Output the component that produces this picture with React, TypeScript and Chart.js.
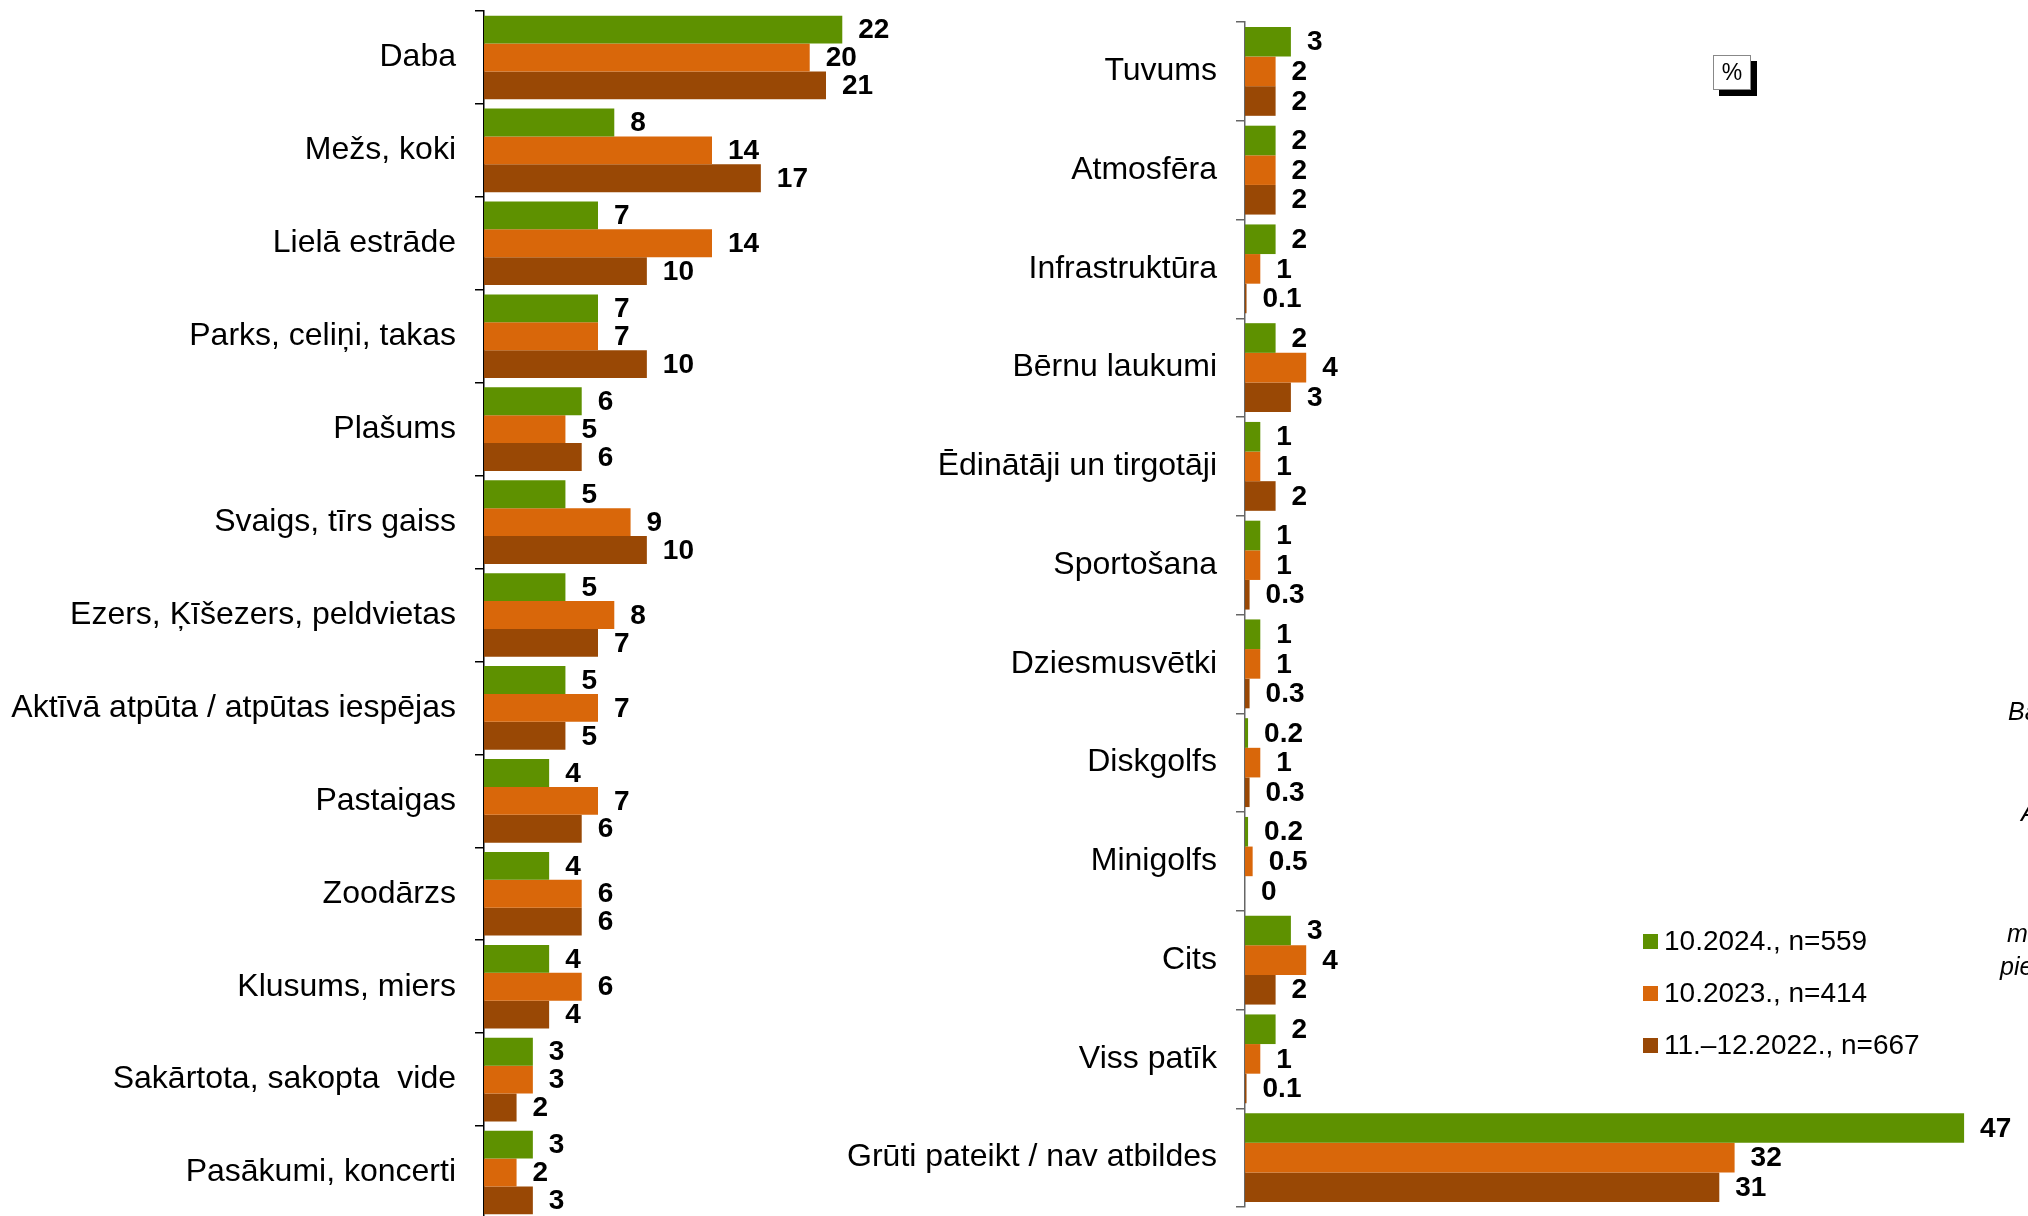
import React, { useEffect, useRef } from "react";
import { Chart, registerables } from "chart.js";

Chart.register(...registerables);

const FONT = '"Liberation Sans", Arial, Helvetica, sans-serif';

// ---------- DATA ----------
const seriesLabels = ["10.2024., n=559", "10.2023., n=414", "11.–12.2022., n=667"];
const seriesColors = ["#5E9100", "#D9670A", "#994805"];

const leftCategories = [
  "Daba",
  "Mežs, koki",
  "Lielā estrāde",
  "Parks, celiņi, takas",
  "Plašums",
  "Svaigs, tīrs gaiss",
  "Ezers, Ķīšezers, peldvietas",
  "Aktīvā atpūta / atpūtas iespējas",
  "Pastaigas",
  "Zoodārzs",
  "Klusums, miers",
  "Sakārtota, sakopta  vide",
  "Pasākumi, koncerti",
];
const left2024 = [22, 8, 7, 7, 6, 5, 5, 5, 4, 4, 4, 3, 3];
const left2023 = [20, 14, 14, 7, 5, 9, 8, 7, 7, 6, 6, 3, 2];
const left2022 = [21, 17, 10, 10, 6, 10, 7, 5, 6, 6, 4, 2, 3];

const rightCategories = [
  "Tuvums",
  "Atmosfēra",
  "Infrastruktūra",
  "Bērnu laukumi",
  "Ēdinātāji un tirgotāji",
  "Sportošana",
  "Dziesmusvētki",
  "Diskgolfs",
  "Minigolfs",
  "Cits",
  "Viss patīk",
  "Grūti pateikt / nav atbildes",
];
const right2024 = [3, 2, 2, 2, 1, 1, 1, 0.2, 0.2, 3, 2, 47];
const right2023 = [2, 2, 1, 4, 1, 1, 1, 1, 0.5, 4, 1, 32];
const right2022 = [2, 2, 0.1, 3, 2, 0.3, 0.3, 0.3, 0, 2, 0.1, 31];

const unitLabel = "%";
const sideNotes = [
  "Bāze: visi respondenti",
  "Atvērts jautājums",
  "mēdz apmeklēt",
  "pieminēja",
];

// ---------- PLUGIN ----------
const valueLabelPlugin = {
  id: "valueLabels",
  afterDatasetsDraw(chart: any) {
    const ctx = chart.ctx;
    ctx.save();
    ctx.font = `bold 28px ${FONT}`;
    ctx.fillStyle = "#000";
    ctx.textAlign = "left";
    ctx.textBaseline = "middle";
    chart.data.datasets.forEach((ds: any, i: number) => {
      const meta = chart.getDatasetMeta(i);
      meta.data.forEach((bar: any, j: number) => {
        const v = ds.data[j];
        ctx.fillText(String(v), bar.x + 16, bar.y + 1);
      });
    });
    ctx.restore();
  },
};

function makeConfig(
  categories: string[],
  series: number[][],
  o: { top: number; bottom: number; right: number; max: number; axisWidth: number; axisColor: string }
): any {
  return {
    type: "bar",
    data: {
      labels: categories,
      datasets: series.map((d, i) => ({
        label: seriesLabels[i],
        data: d,
        backgroundColor: seriesColors[i],
        borderWidth: 0,
        categoryPercentage: 0.9,
        barPercentage: 1,
      })),
    },
    options: {
      indexAxis: "y",
      responsive: false,
      maintainAspectRatio: false,
      animation: false,
      layout: { padding: { top: o.top, bottom: o.bottom, left: 0, right: o.right } },
      plugins: { legend: { display: false }, tooltip: { enabled: false } },
      scales: {
        x: { display: false, min: 0, max: o.max },
        y: {
          afterFit: (scale: any) => {
            scale.width = o.axisWidth;
            scale.paddingTop = 0;
            scale.paddingBottom = 0;
          },
          border: { display: true, color: o.axisColor, width: 1.5 },
          grid: {
            display: true,
            drawOnChartArea: false,
            drawTicks: true,
            tickLength: 9,
            color: o.axisColor,
            lineWidth: 1.5,
            offset: true,
          },
          ticks: {
            color: "#000",
            font: { family: FONT, size: 32 },
            padding: 19,
            autoSkip: false,
          },
        },
      },
    },
    plugins: [valueLabelPlugin],
  };
}

function BarPanel(props: {
  left: number;
  width: number;
  height: number;
  config: any;
}) {
  const ref = useRef<HTMLCanvasElement | null>(null);
  useEffect(() => {
    if (!ref.current) return;
    const chart = new Chart(ref.current, props.config);
    return () => chart.destroy();
  }, []);
  return (
    <canvas
      ref={ref}
      width={props.width}
      height={props.height}
      style={{ position: "absolute", left: props.left, top: 0, width: props.width, height: props.height }}
    />
  );
}

export default function App() {
  const leftConfig = makeConfig(leftCategories, [left2024, left2023, left2022], {
    top: 11,
    bottom: 3,
    right: 0,
    max: 28,
    axisWidth: 484,
    axisColor: "#000",
  });
  const rightConfig = makeConfig(rightCategories, [right2024, right2023, right2022], {
    top: 22,
    bottom: 9,
    right: 18,
    max: 50,
    axisWidth: 645,
    axisColor: "#666",
  });

  const legendY = [941, 993, 1045];
  const noteY = [711, 812, 933, 966];
  const noteX = [2008, 2021, 2007, 2000];

  return (
    <div
      style={{
        position: "fixed",
        left: 0,
        top: 0,
        width: 2028,
        height: 1216,
        overflow: "hidden",
        background: "#fff",
        fontFamily: FONT,
      }}
    >
      <BarPanel left={0} width={940} height={1222} config={leftConfig} />
      <BarPanel left={600} width={1428} height={1216} config={rightConfig} />

      {/* unit box */}
      <div
        style={{
          position: "absolute",
          left: 1713,
          top: 55,
          width: 36,
          height: 33,
          border: "1px solid #888",
          background: "#fff",
          boxShadow: "6px 6px 0 #000",
          display: "flex",
          alignItems: "center",
          justifyContent: "center",
          fontSize: 23,
          color: "#000",
        }}
      >
        {unitLabel}
      </div>

      {/* legend */}
      {seriesLabels.map((lab, i) => (
        <div
          key={lab}
          style={{
            position: "absolute",
            left: 1643,
            top: legendY[i] - 16,
            height: 32,
            display: "flex",
            alignItems: "center",
            whiteSpace: "nowrap",
          }}
        >
          <span style={{ display: "inline-block", width: 15, height: 15, background: seriesColors[i] }} />
          <span style={{ marginLeft: 6, fontSize: 28, color: "#000", lineHeight: "32px" }}>{lab}</span>
        </div>
      ))}

      {/* clipped side notes */}
      {sideNotes.map((t, i) => (
        <div
          key={t}
          style={{
            position: "absolute",
            left: noteX[i],
            top: noteY[i] - 15,
            height: 30,
            lineHeight: "30px",
            fontSize: 25,
            fontStyle: "italic",
            whiteSpace: "nowrap",
            color: "#000",
          }}
        >
          {t}
        </div>
      ))}
    </div>
  );
}
